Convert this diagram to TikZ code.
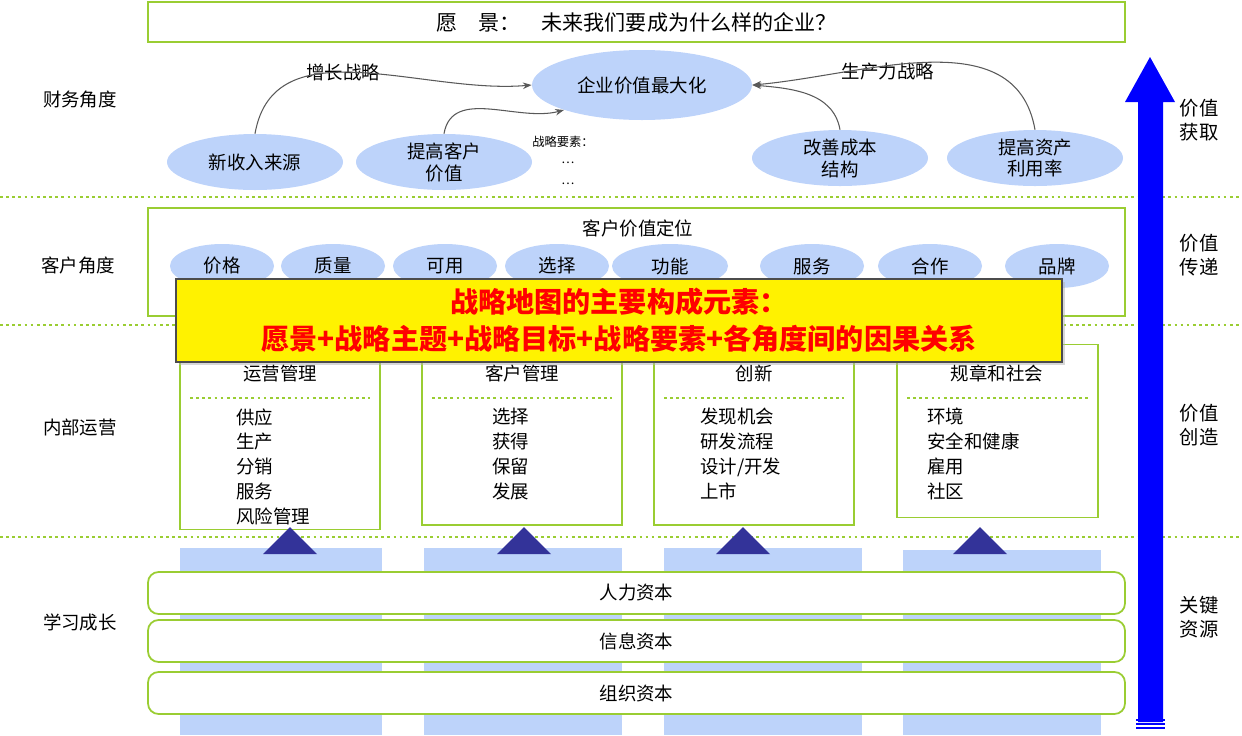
\documentclass[tikz,border=0pt]{standalone}
\usepackage{fontspec}
\setmainfont{Noto Sans CJK SC}
\usetikzlibrary{shadows,arrows.meta,shapes.geometric}
\definecolor{gr}{HTML}{9ACD32}
\definecolor{lb}{HTML}{BDD3FA}
\definecolor{navy}{HTML}{333399}
\tikzset{
 x=0.02cm,y=-0.02cm,
 every node/.style={font=\fontsize{10.5}{12.5}\selectfont},
 gbox/.style={draw=gr,line width=1pt,fill=white},
 ell/.style={ellipse,fill=lb,inner sep=0pt,align=center},
 lab/.style={align=center},
 dline/.style={gr,line width=1.5pt,dotted},
 tri/.style={fill=navy},
 bar/.style={fill=lb},
 capbar/.style={gbox,rounded corners=6pt},
 conn/.style={draw=gray!70!black,line width=0.6pt,-{Stealth[length=5pt]}},
}
\begin{document}
\begin{tikzpicture}
\useasboundingbox (0,0) rectangle (1242,735);
% dotted separators
\draw[dline] (0,197) -- (1242,197);
\draw[dline] (0,325) -- (1242,325);
\draw[dline] (0,537) -- (1242,537);
% vision
\node[gbox,minimum width=977*0.02cm,minimum height=40*0.02cm,font=\fontsize{12}{14}\selectfont] (vis) at (636.5,22) {愿\quad 景：\quad 未来我们要成为什么样的企业？};
% left labels
\node (p1) at (80,100) {财务角度};
\node (p2) at (78,265) {客户角度};
\node (p3) at (80,427) {内部运营};
\node (p4) at (80,622) {学习成长};
% financial
\node[ell,minimum width=220*0.02cm,minimum height=70*0.02cm] (big) at (642,85) {企业价值最大化};
\node[ell,minimum width=176*0.02cm,minimum height=56*0.02cm] (f1) at (255,162) {新收入来源};
\node[ell,minimum width=176*0.02cm,minimum height=56*0.02cm] (f2) at (444,162) {提高客户\\价值};
\node[ell,minimum width=176*0.02cm,minimum height=56*0.02cm] (f3) at (840,158) {改善成本\\结构};
\node[ell,minimum width=176*0.02cm,minimum height=56*0.02cm] (f4) at (1035,158) {提高资产\\利用率};
\node (g1) at (343,72) {增长战略};
\node (g2) at (888,72) {生产力战略};
\node[font=\fontsize{7}{8}\selectfont] (se) at (563,142) {战略要素：};
\node[font=\fontsize{7}{8}\selectfont] (d1) at (568,163) {…};
\node[font=\fontsize{7}{8}\selectfont] (d2) at (568,184) {…};
\draw[conn] (f1.north) to[out=80,in=185] (big.west);
\draw[conn] (f2.north) to[out=80,in=195] (big.south west);
\draw[conn] (f3.north) to[out=100,in=-5] (big.east);
\draw[conn] (f4.north) to[out=100,in=5] (big.east);
% customer
\node[gbox,minimum width=977*0.02cm,minimum height=108*0.02cm] (cbox) at (636.5,262) {};
\node (cv) at (638,228) {客户价值定位};
\foreach \n/\x/\t/\w in {c1/222/价格/104,c2/333/质量/104,c3/445/可用/104,c4/557/选择/104,c5/670/功能/116,c6/812/服务/104,c7/930/合作/104,c8/1057/品牌/104}
  \node[ell,minimum width=\w*0.02cm,minimum height=44*0.02cm] (\n) at (\x,266) {\t};
\node (img) at (1045,298) {形象};
% internal boxes
\node[gbox,minimum width=200*0.02cm,minimum height=185*0.02cm] (b1) at (280,437) {};
\node[gbox,minimum width=200*0.02cm,minimum height=180*0.02cm] (b2) at (522,435) {};
\node[gbox,minimum width=200*0.02cm,minimum height=180*0.02cm] (b3) at (754,435) {};
\node[gbox,minimum width=201*0.02cm,minimum height=173*0.02cm] (b4) at (997.5,431) {};
\node (t1) at (280,373) {运营管理};
\node (t2) at (522,373) {客户管理};
\node (t3) at (754,373) {创新};
\node (t4) at (997,373) {规章和社会};
\draw[dline,line width=1pt] (190,398) -- (370,398);
\draw[dline,line width=1pt] (432,398) -- (612,398);
\draw[dline,line width=1pt] (664,398) -- (844,398);
\draw[dline,line width=1pt] (907,398) -- (1088,398);
\node[lab,anchor=north west,align=left,inner sep=0pt,font=\fontsize{10.5}{14.2}\selectfont] (l1) at (236,408) {供应\\生产\\分销\\服务\\风险管理};
\node[lab,anchor=north west,align=left,inner sep=0pt,font=\fontsize{10.5}{14.2}\selectfont] (l2) at (492,408) {选择\\获得\\保留\\发展};
\node[lab,anchor=north west,align=left,inner sep=0pt,font=\fontsize{10.5}{14.2}\selectfont] (l3) at (700,408) {发现机会\\研发流程\\设计/开发\\上市};
\node[lab,anchor=north west,align=left,inner sep=0pt,font=\fontsize{10.5}{14.2}\selectfont] (l4) at (927,408) {环境\\安全和健康\\雇用\\社区};
% yellow overlay
\node[draw=gray!60!black,line width=1pt,fill=yellow,drop shadow={shadow xshift=1.5pt,shadow yshift=-1.5pt,fill=gray!60},
  minimum width=886*0.02cm,minimum height=83*0.02cm,align=center,text=red,
  font=\fontsize{16}{21}\selectfont\bfseries] (yb) at (619,320.5) {战略地图的主要构成元素：\\愿景+战略主题+战略目标+战略要素+各角度间的因果关系};
% learning
\fill[bar] (180,548) rectangle (382,735);
\fill[bar] (424,548) rectangle (622,735);
\fill[bar] (664,548) rectangle (862,735);
\fill[bar] (903,550) rectangle (1101,735);
\fill[tri] (263,554) -- (317,554) -- (290,527) -- cycle;
\fill[tri] (497,554) -- (551,554) -- (524,527) -- cycle;
\fill[tri] (716,554) -- (770,554) -- (743,527) -- cycle;
\fill[tri] (953,554) -- (1007,554) -- (980,527) -- cycle;
\node[capbar,minimum width=977*0.02cm,minimum height=42*0.02cm] (r1) at (636.5,593) {人力资本};
\node[capbar,minimum width=977*0.02cm,minimum height=42*0.02cm] (r2) at (636.5,641) {信息资本};
\node[capbar,minimum width=977*0.02cm,minimum height=42*0.02cm] (r3) at (636.5,693) {组织资本};
% big arrow
\fill[blue] (1138,722) -- (1138,102) -- (1125,102) -- (1150,57) -- (1175,102) -- (1163,102) -- (1163,722) -- cycle;
\foreach \y in {720,724,728}
  \draw[blue,line width=0.8pt] (1136,\y) -- (1165,\y);
\node[lab,font=\fontsize{11}{13.5}\selectfont] (v1) at (1199,120) {价值\\获取};
\node[lab,font=\fontsize{11}{13.5}\selectfont] (v2) at (1199,255) {价值\\传递};
\node[lab,font=\fontsize{11}{13.5}\selectfont] (v3) at (1199,425) {价值\\创造};
\node[lab,font=\fontsize{11}{13.5}\selectfont] (v4) at (1199,617) {关键\\资源};
\end{tikzpicture}
\end{document}
